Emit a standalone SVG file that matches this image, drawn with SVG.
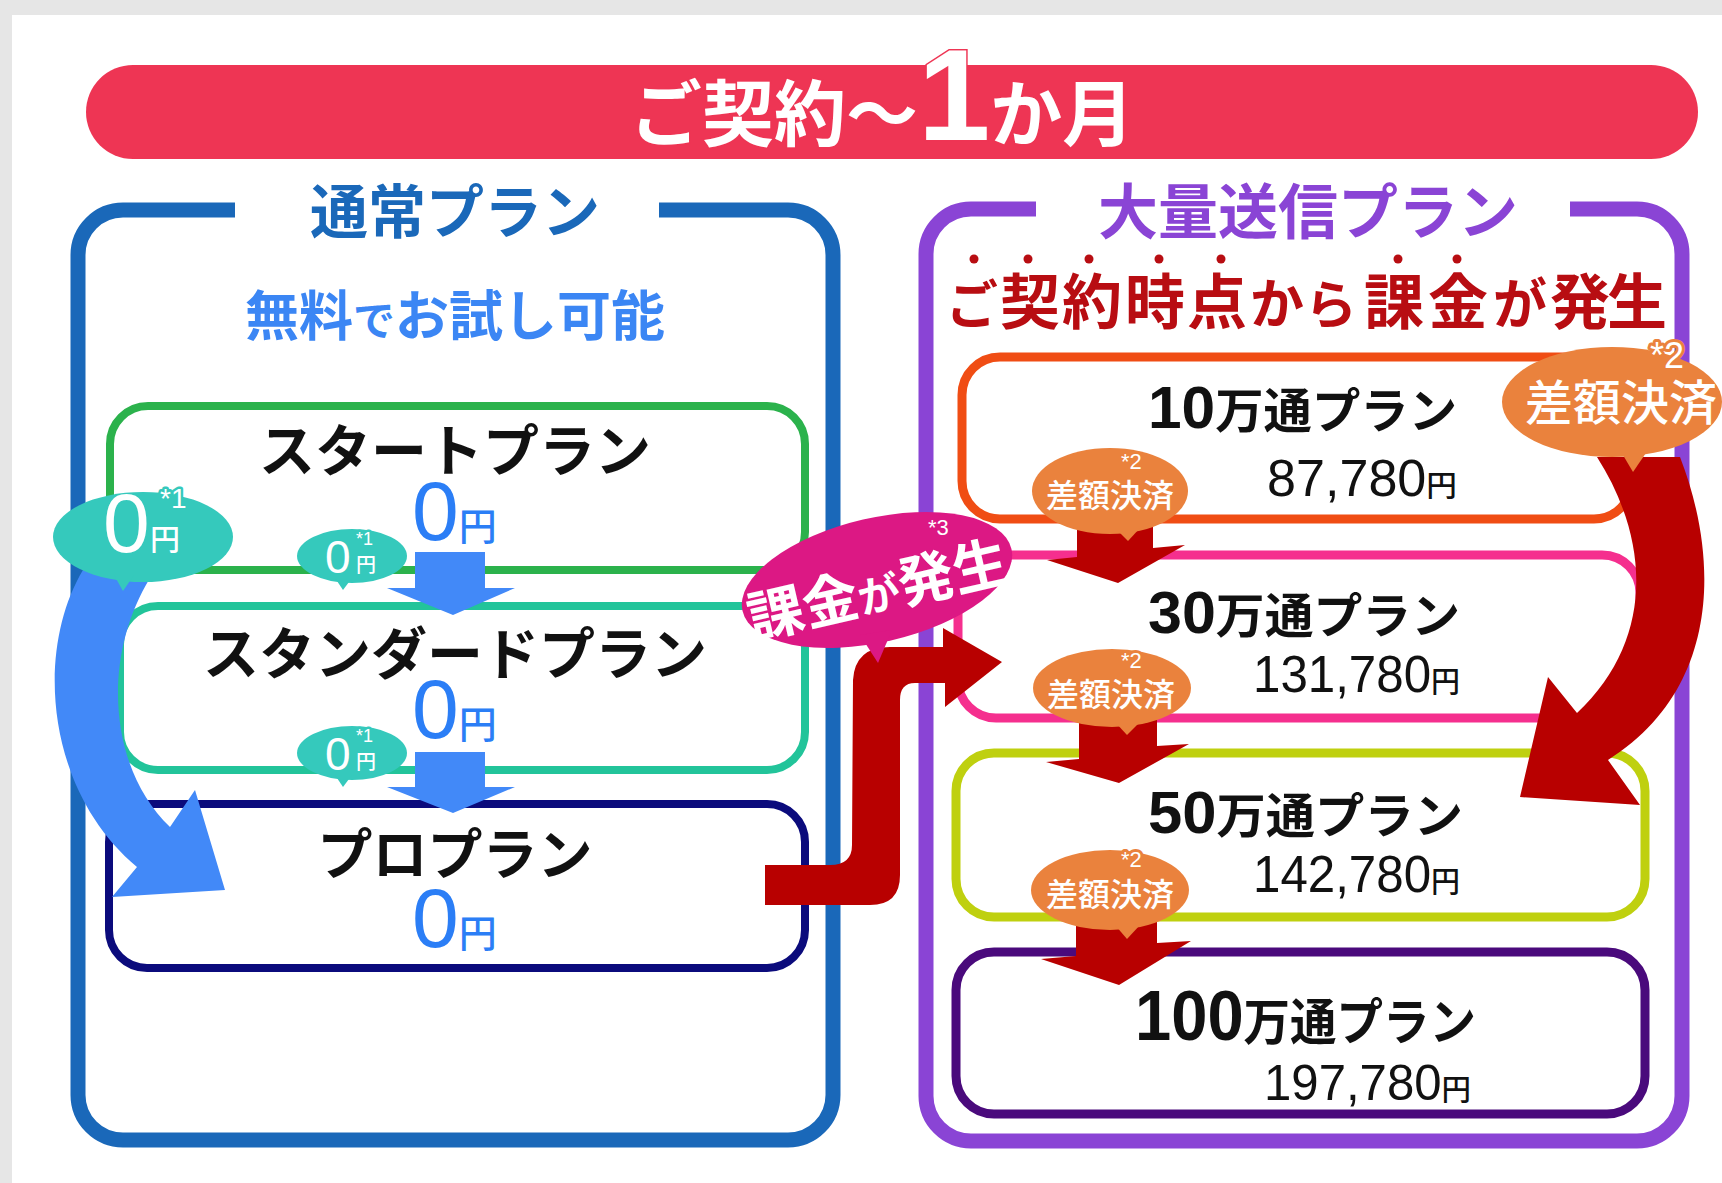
<svg xmlns="http://www.w3.org/2000/svg" width="1722" height="1183" viewBox="0 0 1722 1183">
<defs>
<style>
.jp{font-family:"Noto Sans CJK JP","Noto Sans",sans-serif;font-weight:700}
.jpm{font-family:"Noto Sans CJK JP","Noto Sans",sans-serif;font-weight:500}
.num{font-family:"Liberation Sans","Noto Sans CJK JP",sans-serif}
.outer{fill:none;stroke-width:15}
.box{fill:#fff;stroke-width:8}
.rbox{fill:#fff;stroke-width:9}
.w{fill:#fff}
.k{fill:#111}
.teal{fill:#35c9bc}
.orange{fill:#ea823d}
.red{fill:#b80000}
.blue{fill:#4289f8}
.zero{fill:#2b7ef6}
.haloO{stroke:#ea823d;stroke-width:6;stroke-linejoin:round;paint-order:stroke}
.haloT{stroke:#35c9bc;stroke-width:5;stroke-linejoin:round;paint-order:stroke}
.haloM{stroke:#dc1884;stroke-width:5;stroke-linejoin:round;paint-order:stroke}
</style>
</defs>
<rect width="1722" height="1183" fill="#e6e6e6"/>
<rect x="12" y="15" width="1710" height="1168" fill="#fff"/>

<g id="banner">
<rect x="86" y="65" width="1612" height="94" rx="47" fill="#ee3554"/>
<text x="630" y="140" class="jp" font-size="72" fill="#fff" stroke="#ee3554" stroke-width="3" paint-order="stroke">ご契約～<tspan class="num" font-size="130" font-weight="700">1</tspan>か月</text>
</g>

<g id="normal-plan">
<path class="outer" stroke="#1a68b9" d="M 235 210 L 123 210 A 45 45 0 0 0 78 255 L 78 1095 A 45 45 0 0 0 123 1140 L 788 1140 A 45 45 0 0 0 833 1095 L 833 255 A 45 45 0 0 0 788 210 L 659 210"/>
<text class="jp" x="455" y="233" font-size="58" fill="#1a68b9" text-anchor="middle">通常プラン</text>
<text class="jp" x="455" y="336" font-size="54" fill="#3b86f4" text-anchor="middle">無料<tspan font-size="42">で</tspan>お試し可能</text>
</g>

<g id="start-plan">
<rect class="box" x="110" y="406" width="695" height="164" rx="38" stroke="#2bb24c"/>
<text class="jp k" x="455" y="471" font-size="56" text-anchor="middle">スタートプラン</text>
<text class="zero" x="412" y="540"><tspan class="num" font-size="84">0</tspan><tspan class="jpm" font-size="38">円</tspan></text>
</g>

<g id="standard-plan">
<rect class="box" x="120" y="606" width="685" height="164" rx="38" stroke="#22c49a"/>
<text class="jp k" x="455" y="674" font-size="56" text-anchor="middle">スタンダードプラン</text>
<text class="zero" x="412" y="738"><tspan class="num" font-size="84">0</tspan><tspan class="jpm" font-size="38">円</tspan></text>
</g>

<g id="pro-plan">
<rect class="box" x="109" y="804" width="696" height="164" rx="38" stroke="#0b0b7c"/>
<text class="jp k" x="455" y="874" font-size="55" text-anchor="middle">プロプラン</text>
<text class="zero" x="412" y="947"><tspan class="num" font-size="84">0</tspan><tspan class="jpm" font-size="38">円</tspan></text>
</g>

<g id="bulk-plan">
<path class="outer" stroke="#8a44d5" d="M 1036 209 L 971 209 A 45 45 0 0 0 926 254 L 926 1096 A 45 45 0 0 0 971 1141 L 1637 1141 A 45 45 0 0 0 1682 1096 L 1682 254 A 45 45 0 0 0 1637 209 L 1570 209"/>
<text class="jp" x="1308" y="234" font-size="60" fill="#8a44d5" text-anchor="middle">大量送信プラン</text>
<g fill="#b80d12">
<circle cx="974" cy="259" r="4.5"/><circle cx="1028" cy="259" r="4.5"/><circle cx="1089" cy="259" r="4.5"/><circle cx="1159" cy="259" r="4.5"/><circle cx="1221" cy="259" r="4.5"/><circle cx="1398" cy="259" r="4.5"/><circle cx="1457" cy="259" r="4.5"/>
</g>
<text class="jp" y="324" font-size="60" fill="#b80d12" text-anchor="middle"><tspan x="972" font-size="52">ご</tspan><tspan x="1030">契</tspan><tspan x="1092">約</tspan><tspan x="1155">時</tspan><tspan x="1217">点</tspan><tspan x="1277" font-size="54">か</tspan><tspan x="1331" font-size="52">ら</tspan><tspan x="1394">課</tspan><tspan x="1458">金</tspan><tspan x="1520" font-size="54">が</tspan><tspan x="1580">発</tspan><tspan x="1637">生</tspan></text>
</g>

<g id="plan-10man">
<rect class="rbox" x="962" y="357" width="670" height="162" rx="38" stroke="#f04d14"/>
<text class="jp k" x="1148" y="428" textLength="309" lengthAdjust="spacingAndGlyphs"><tspan class="num" font-size="60" font-weight="700">10</tspan><tspan font-size="48">万通プラン</tspan></text>
<text class="k" x="1267" y="496" textLength="190" lengthAdjust="spacingAndGlyphs"><tspan class="num" font-size="51">87,780</tspan><tspan class="jpm" font-size="30">円</tspan></text>
</g>

<g id="plan-30man">
<rect class="rbox" x="958" y="555" width="682" height="163" rx="38" stroke="#f52f8e"/>
<text class="jp k" x="1148" y="633" textLength="312" lengthAdjust="spacingAndGlyphs"><tspan class="num" font-size="60" font-weight="700">30</tspan><tspan font-size="48">万通プラン</tspan></text>
<text class="k" x="1253" y="692" textLength="207" lengthAdjust="spacingAndGlyphs"><tspan class="num" font-size="51">131,780</tspan><tspan class="jpm" font-size="30">円</tspan></text>
</g>

<g id="plan-50man">
<rect class="rbox" x="956" y="753" width="689" height="164" rx="38" stroke="#bfd00f"/>
<text class="jp k" x="1148" y="833" textLength="315" lengthAdjust="spacingAndGlyphs"><tspan class="num" font-size="60" font-weight="700">50</tspan><tspan font-size="48">万通プラン</tspan></text>
<text class="k" x="1253" y="892" textLength="207" lengthAdjust="spacingAndGlyphs"><tspan class="num" font-size="51">142,780</tspan><tspan class="jpm" font-size="30">円</tspan></text>
</g>

<g id="plan-100man">
<rect class="rbox" x="956" y="952" width="689" height="162" rx="38" stroke="#4a0a7c"/>
<text class="jp k" x="1135" y="1040" textLength="341" lengthAdjust="spacingAndGlyphs"><tspan class="num" font-size="70" font-weight="700">100</tspan><tspan font-size="50">万通プラン</tspan></text>
<text class="k" x="1264" y="1100" textLength="207" lengthAdjust="spacingAndGlyphs"><tspan class="num" font-size="50">197,780</tspan><tspan class="jpm" font-size="30">円</tspan></text>
</g>

<g id="connectors">
<path class="blue" d="M 415 552 L 485 552 L 485 588 L 515 588 L 453 615 L 387 588 L 415 588 Z"/>
<path class="blue" d="M 415 752 L 485 752 L 485 787 L 515 787 L 453 813 L 387 787 L 415 787 Z"/>
<path class="blue" d="M 83 570 C 35 650, 45 790, 137 867 L 112 897 L 225 890 L 195 790 L 170 827 C 110 770, 100 660, 150 578 Z"/>
<path class="red" d="M 765 865 L 830 865 Q 852 865 852 845 L 853 680 Q 855 647 890 647 L 943 647 L 943 628 L 1002 662 L 945 707 L 945 683 L 915 683 Q 900 683 900 700 L 900 875 Q 900 905 870 905 L 765 905 Z"/>
<path class="red" d="M 1077 520 L 1153 520 L 1153 548 L 1185 545 L 1118 583 L 1047 560 L 1077 557 Z"/>
<path class="red" d="M 1079 715 L 1157 715 L 1157 746 L 1189 744 L 1119 783 L 1046 762 L 1079 759 Z"/>
<path class="red" d="M 1076 915 L 1157 915 L 1157 943 L 1191 941 L 1119 985 L 1041 959 L 1076 956 Z"/>
<path class="red" d="M 1597 457 C 1650 540, 1655 640, 1577 713 L 1548 677 L 1520 797 L 1640 805 L 1608 760 C 1720 690, 1720 560, 1680 457 Z"/>
</g>

<g id="edge-labels">
<g id="badge-free-big">
<ellipse class="teal" cx="143" cy="537" rx="90" ry="45"/>
<polygon class="teal" points="114,575 134,575 123,591"/>
<text class="w num" x="103" y="552" font-size="84">0</text>
<text class="w jpm" x="150" y="550" font-size="30">円</text>
<text class="w num haloT" x="160" y="508" font-size="28">*1</text>
</g>
<g id="badge-free-1">
<ellipse class="teal" cx="352" cy="556" rx="55" ry="27"/>
<polygon class="teal" points="335,578 352,578 343,590"/>
<text class="w num" x="325" y="573" font-size="46">0</text>
<text class="w jpm" x="356" y="572" font-size="20">円</text>
<text class="w num haloT" x="356" y="545" font-size="18">*1</text>
</g>
<g id="badge-free-2">
<ellipse class="teal" cx="352" cy="753" rx="55" ry="27"/>
<polygon class="teal" points="335,775 352,775 343,787"/>
<text class="w num" x="325" y="770" font-size="46">0</text>
<text class="w jpm" x="356" y="769" font-size="20">円</text>
<text class="w num haloT" x="356" y="742" font-size="18">*1</text>
</g>
<g id="badge-charge">
<ellipse cx="877" cy="580" rx="138" ry="62" fill="#dc1884" transform="rotate(-13 877 580)"/>
<polygon points="860,635 892,630 878,663" fill="#dc1884"/>
<g transform="translate(878 590) rotate(-13)">
<text class="jp w" x="0" y="20" font-size="56" text-anchor="middle">課金<tspan font-size="42">が</tspan>発生</text>
</g>
<text class="w num haloM" x="928" y="535" font-size="22">*3</text>
</g>
<g id="badge-diff-big">
<ellipse class="orange" cx="1612" cy="402" rx="110" ry="55"/>
<polygon class="orange" points="1620,450 1648,450 1633,472"/>
<text class="jpm w" x="1621" y="420" font-size="48" text-anchor="middle">差額決済</text>
<text class="w num haloO" x="1650" y="368" font-size="36">*2</text>
</g>
<g id="badge-diff-1">
<ellipse class="orange" cx="1110" cy="491" rx="78" ry="43"/>
<polygon class="orange" points="1115,528 1140,528 1128,541"/>
<text class="jpm w" x="1110" y="507" font-size="32" text-anchor="middle">差額決済</text>
<text class="w num haloO" x="1121" y="469" font-size="22">*2</text>
</g>
<g id="badge-diff-2">
<ellipse class="orange" cx="1112" cy="688" rx="79" ry="39"/>
<polygon class="orange" points="1115,722 1140,722 1127,735"/>
<text class="jpm w" x="1111" y="706" font-size="32" text-anchor="middle">差額決済</text>
<text class="w num haloO" x="1121" y="668" font-size="22">*2</text>
</g>
<g id="badge-diff-3">
<ellipse class="orange" cx="1110" cy="890" rx="79" ry="40"/>
<polygon class="orange" points="1115,925 1140,925 1127,939"/>
<text class="jpm w" x="1110" y="906" font-size="32" text-anchor="middle">差額決済</text>
<text class="w num haloO" x="1121" y="867" font-size="22">*2</text>
</g>
</g>
</svg>
